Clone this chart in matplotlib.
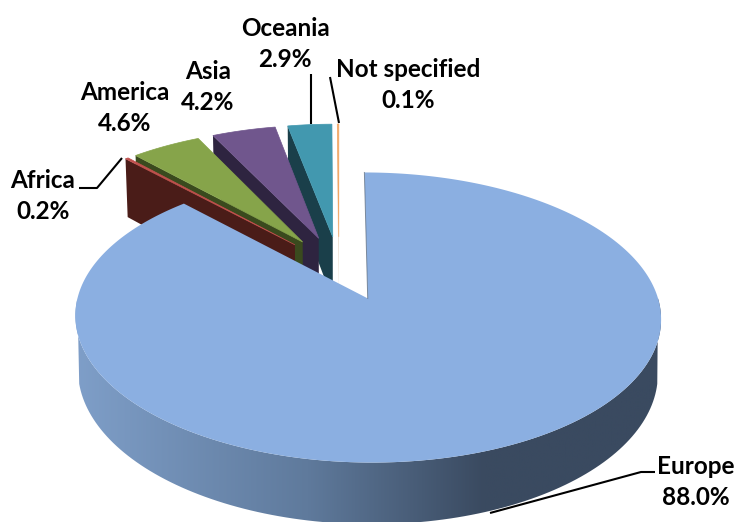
import numpy as np
import matplotlib
matplotlib.use("Agg")
import matplotlib.pyplot as plt
from matplotlib.patches import Polygon
from matplotlib.colors import LinearSegmentedColormap

# Datos del grafico (reparto en %)
names = ["Europe", "Africa", "America", "Asia", "Oceania", "Not specified"]
shares = [88.0, 0.2, 4.6, 4.2, 2.9, 0.1]
top_colors = ["#8BAFE1", "#C0504D", "#86A44A", "#70568D", "#4298AF", "#F2A664"]
side_colors = ["#3A4A60", "#4A1C18", "#3A4A1E", "#2E2440", "#1A3F4A", "#E8D8C8"]
explode = [0.24, 0.235, 0.235, 0.235, 0.235, 0.235]

# Posicion de cada etiqueta (centro) y lineas guia, en pixeles
label_pos = {"Europe": (696, 482), "Africa": (43, 196), "America": (125, 108),
             "Asia": (208, 87), "Oceania": (285, 44), "Not specified": (408, 85)}
leaders = [[(490, 513), (641, 472), (655, 472)],
           [(122, 158), (97, 188), (79, 188)],
           [(311, 74), (311, 124)],
           [(330, 77), (339, 123)]]

# Proyeccion en perspectiva del disco sobre la imagen
X0, Y0 = 339.0, 267.5
BX, AY, K, DEPTH = 282.0, 134.5, 0.128, 52.0
EUROPE_DU = 0.0106


def project(u, v, low=0.0):
    s = 1.0 / (1.0 + K * v)
    x = X0 + BX * u * s
    y = Y0 - AY * v * s
    if low:
        x = X0 + (x - X0) * 0.99
        y = y + DEPTH * s * low
    return x, y


def rim(start, end, center, n=120, low=0.0):
    t = np.radians(np.linspace(start, end, n))
    return project(center[0] + np.sin(t), center[1] + np.cos(t), low)


fig = plt.figure(figsize=(7.39, 5.22), dpi=100)
ax = fig.add_axes([0, 0, 1, 1])

edges = np.concatenate([[0], np.cumsum(shares)]) * 360.0 / np.sum(shares)

# Porciones pequenas de atras hacia delante, Europa queda encima
for i in range(len(shares) - 1, 0, -1):
    a, b = edges[i], edges[i + 1]
    mid = np.radians((a + b) / 2)
    c = (explode[i] * np.sin(mid), explode[i] * np.cos(mid))
    ax_, ay_ = project(c[0], c[1])
    bx_, by_ = project(c[0], c[1], low=1.25)
    rx, ry = rim(a, a, c, n=1)
    lx, ly = rim(a, a, c, n=1, low=1.25)
    z = (len(shares) - i) * 2
    ax.add_patch(Polygon([(rx[0], ry[0]), (ax_, ay_), (bx_, by_), (lx[0], ly[0])],
                         closed=True, fc=side_colors[i], ec="none", zorder=z))
    x, y = rim(a, b, c, n=30)
    pts = np.column_stack([np.r_[ax_, x], np.r_[ay_, y]])
    ax.add_patch(Polygon(pts, closed=True, fc=top_colors[i], ec=top_colors[i], lw=0.5,
                         zorder=z + 1))

# Europa: pared lateral con degradado
mid = np.radians((edges[0] + edges[1]) / 2)
c = (explode[0] * np.sin(mid) + EUROPE_DU, explode[0] * np.cos(mid))
x1, y1 = rim(90, 270, c)
x2, y2 = rim(102, 258, c, low=1.0)
wall = Polygon(np.column_stack([np.r_[x1, x2[::-1]], np.r_[y1, y2[::-1]]]),
               closed=True, fc="none", ec="none", transform=ax.transData)
ax.add_patch(wall)
cmap = LinearSegmentedColormap.from_list(
    "wall", [(0, "#3A4A60"), (0.3, "#3A4A60"), (0.6, "#5F7A9C"), (1, "#7F9FC9")])
im = ax.imshow(np.linspace(0, 1, 256)[None, :], extent=(661, 72, 530, 250), cmap=cmap,
               aspect="auto", zorder=20)
im.set_clip_path(wall)

# Europa: cara superior
xc, yc = project(c[0], c[1])
x, y = rim(edges[0], edges[1], c, n=300)
ax.add_patch(Polygon(np.column_stack([np.r_[xc, x], np.r_[yc, y]]), closed=True,
                     fc=top_colors[0], ec="none", zorder=21))
ax.plot([xc, x[0]], [yc, y[0]], color="#5A6878", lw=0.7, alpha=0.7, zorder=22)

# Etiquetas
for name, share in zip(names, shares):
    ax.text(*label_pos[name], f"{name}\n{share:.1f}%", ha="center", va="center",
            family=["Lato", "DejaVu Sans"], fontweight="bold", fontsize=17.5,
            linespacing=1.45, color="black", zorder=30)
for line in leaders:
    xs, ys = zip(*line)
    ax.plot(xs, ys, color="black", lw=1.5, zorder=25, solid_capstyle="butt")

ax.set_xlim(0, 739)
ax.set_ylim(522, 0)
ax.axis("off")
fig.savefig("out.png", dpi=100)
